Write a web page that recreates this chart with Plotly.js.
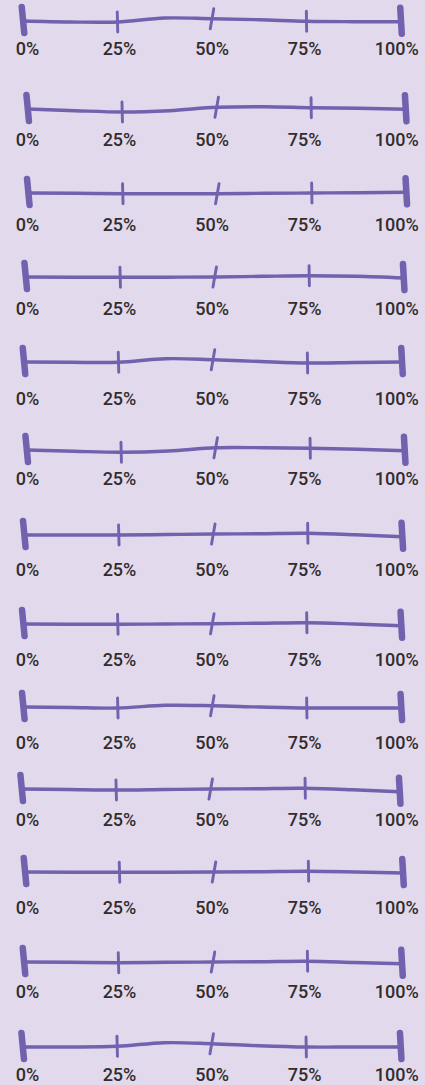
<!DOCTYPE html>
<html>
<head>
<meta charset="utf-8">
<script src="https://cdn.plot.ly/plotly-3.0.1.min.js"></script>
<style>
  html, body { margin: 0; padding: 0; background: #E2D9EC; }
  #chart { width: 425px; height: 1085px; }
  .js-line { stroke-linecap: round !important; stroke-linejoin: round !important; }
</style>
</head>
<body>
<div id="chart"></div>
<script>
// ---------- DATA ----------
const TICK_VALUES = [0, 25, 50, 75, 100];
const TICK_LABELS = ['0%', '25%', '50%', '75%', '100%'];
const ROW_COUNT = 13;

// ---------- LAYOUT (page geometry, px) ----------
const W = 425, H = 1085;
const X0_PX = 24;          // where 0% sits on the page
const PX_PER_PCT = 3.78;   // horizontal scale
const ROW_LINE_Y = [21, 109, 193, 277, 362, 450, 535, 624, 707, 789, 872, 962, 1047];
const ROW_LABEL_Y = [50, 141.5, 226.5, 310, 400, 480.5, 571.5, 661.5, 744, 821.5, 909, 993, 1076.5];
const ROW_X0_PX = [23, 27.7, 28.3, 25.7, 24, 26.7, 24.3, 23.3, 23.3, 21.7, 25, 24, 22.7];
const LABEL_NUDGE_PX = [3.5, 1, -0.8, -2.8, -5.3];

// ---------- STYLE ----------
const BG = '#E2D9EC';
const INK = '#7161AE';
const TEXT = '#322d2d';
const LINE_W = 3.4, TICK_W = 2.9, CAP_W = 6.5;
const TICK_UP = 10, TICK_DOWN = 10, CAP_UP = 14, CAP_DOWN = 12;
// hand-drawn tilt (px, bottom end shift) per tick position
const TICK_TILT_PX = [2.5, 0.5, -3.5, 0.3, 1.5];
// hand-drawn wobble of the stroke (px) sampled every 12.5%
const WOBBLE_STEP = 12.5;
const STROKE_WOBBLE = [
  [0, 1, 1, -3, -2.3, -1.3, 0.3, 0.7, 0.7],
  [0, 1.7, 3, 1.7, -1.7, -2.3, -1.3, -0.7, 0.3],
  [0, 0.3, 0.7, 0.7, 0.7, 0.3, 0, -0.3, -0.7],
  [0, 0.2, 0.3, 0.2, 0, -0.7, -1.3, -0.7, 1],
  [0, 0.3, 0.3, -3.3, -2.3, -0.5, 1, 0.5, 0],
  [0, 1.3, 2.3, 1, -2.3, -2.3, -1.7, -0.7, 0.7],
  [0, 0, 0, -0.5, -1, -1.3, -1.7, -0.3, 1.7],
  [0, 0.2, 0.3, 0, -0.3, -0.8, -1.3, 0, 1.7],
  [0, 0.5, 1, -1.7, -1.3, 0, 1, 1, 1],
  [0, 0.5, 1, 0.5, 0, -0.3, -0.7, 0.7, 2.7],
  [0, 0.2, 0.3, 0.2, 0, -0.3, -0.7, 0, 1],
  [0, 0.3, 0.7, 0.3, 0, -0.3, -0.7, 0.5, 1.7],
  [0, 0, -0.7, -4.3, -3.3, -1.3, 0, 0, 0]
];

// ---------- BUILD ----------
const pxToPct = px => px / PX_PER_PCT;
const xMin = -X0_PX / PX_PER_PCT;
const xMax = (W - X0_PX) / PX_PER_PCT;

const traces = [];
const tickX = [], tickY = [], capX = [], capY = [];
const labX = [], labY = [], labT = [];

for (let r = 0; r < ROW_COUNT; r++) {
  const shift = pxToPct(ROW_X0_PX[r] - X0_PX);
  const yBase = ROW_LINE_Y[r];
  const wob = STROKE_WOBBLE[r];
  const lx = [], ly = [];
  wob.forEach((w, i) => { lx.push(i * WOBBLE_STEP + shift); ly.push(yBase + w); });
  traces.push({
    type: 'scatter', mode: 'lines', x: lx, y: ly,
    line: { color: INK, width: LINE_W, shape: 'spline', smoothing: 1 },
    hoverinfo: 'skip', showlegend: false
  });

  TICK_VALUES.forEach((v, i) => {
    const isCap = (i === 0 || i === TICK_VALUES.length - 1);
    const wIdx = Math.round(v / WOBBLE_STEP);
    const yc = yBase + (wob[wIdx] || 0);
    const tilt = pxToPct(TICK_TILT_PX[i]) / 2;
    const xs = isCap ? capX : tickX, ys = isCap ? capY : tickY;
    const up = isCap ? CAP_UP : TICK_UP, down = isCap ? CAP_DOWN : TICK_DOWN;
    xs.push(v + shift - tilt, v + shift + tilt, null);
    ys.push(yc - up, yc + down, null);

    labX.push(v + pxToPct(LABEL_NUDGE_PX[i]));
    labY.push(ROW_LABEL_Y[r]);
    labT.push(TICK_LABELS[i]);
  });
}

traces.push({
  type: 'scatter', mode: 'lines', x: tickX, y: tickY, connectgaps: false,
  line: { color: INK, width: TICK_W }, hoverinfo: 'skip', showlegend: false
});
traces.push({
  type: 'scatter', mode: 'lines', x: capX, y: capY, connectgaps: false,
  line: { color: INK, width: CAP_W }, hoverinfo: 'skip', showlegend: false
});
traces.push({
  type: 'scatter', mode: 'text', x: labX, y: labY, text: labT,
  textposition: 'middle center', cliponaxis: false,
  textfont: { family: 'Roboto, Lato, "Noto Sans", sans-serif', size: 18, weight: 500, color: TEXT },
  hoverinfo: 'skip', showlegend: false
});

const layout = {
  width: W, height: H,
  margin: { l: 0, r: 0, t: 0, b: 0, pad: 0 },
  paper_bgcolor: BG, plot_bgcolor: BG,
  showlegend: false,
  xaxis: { range: [xMin, xMax], visible: false, fixedrange: true },
  yaxis: { range: [H, 0], visible: false, fixedrange: true }
};

Plotly.newPlot('chart', traces, layout, { displayModeBar: false, staticPlot: true });
</script>
</body>
</html>
